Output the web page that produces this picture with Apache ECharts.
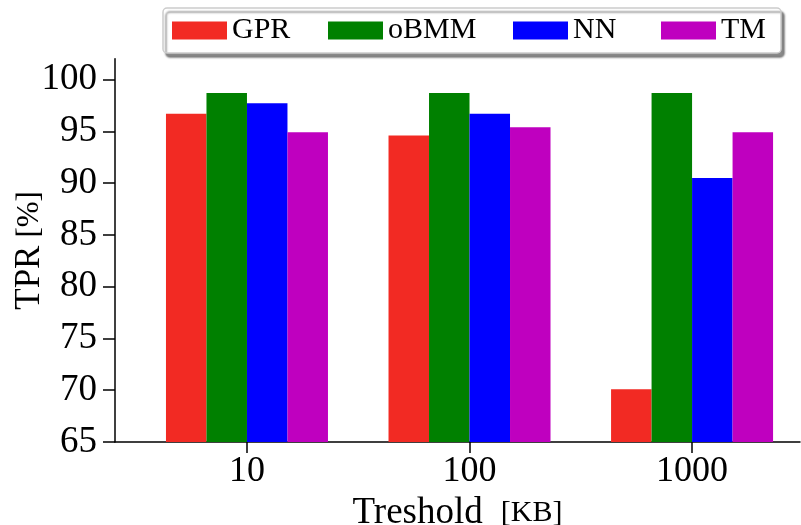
<!DOCTYPE html>
<html>
<head>
<meta charset="utf-8">
<script src="https://cdn.jsdelivr.net/npm/echarts@6/dist/echarts.min.js"></script>
<style>
  html, body { margin: 0; padding: 0; background: #fff; }
  #chart { width: 801px; height: 525px; }
</style>
</head>
<body>
<div id="chart"></div>
<script>
// Threshold categories (KB) and true-positive rates per method
const categories = ['10', '100', '1000'];
const gpr  = [96.7, 94.6, 70.1];
const obmm = [98.7, 98.7, 98.7];
const nn   = [97.7, 96.7, 90.5];
const tm   = [94.9, 95.4, 94.9];
const yTicks = [65, 70, 75, 80, 85, 90, 95, 100];
const catPositions = [0, 1, 2];

const FONT = 'Liberation Serif';

const seriesDefs = [
  { name: 'GPR',  values: gpr,  color: '#f22a23' },
  { name: 'oBMM', values: obmm, color: '#008000' },
  { name: 'NN',   values: nn,   color: '#0000ff' },
  { name: 'TM',   values: tm,   color: '#bf00bf' }
];

// legend text widths keep the columns where they sit in the figure
const legendTextWidths = { GPR: 86, oBMM: 115, NN: 78, TM: 48 };

const chart = echarts.init(document.getElementById('chart'), null, { renderer: 'canvas' });

chart.setOption({
  backgroundColor: '#ffffff',
  animation: false,
  textStyle: { fontFamily: FONT, color: '#000' },
  grid: { left: 115, right: 1, top: 58.8, bottom: 83, containLabel: false, outerBoundsMode: 'none' },
  legend: {
    left: 163,
    top: 8,
    orient: 'horizontal',
    icon: 'rect',
    itemWidth: 55,
    itemHeight: 18,
    itemGap: 10,
    padding: [7, 12, 7, 9],
    backgroundColor: '#ffffff',
    borderColor: '#cccccc',
    borderWidth: 1.5,
    borderRadius: 4,
    shadowColor: 'rgba(0,0,0,0.45)',
    shadowBlur: 2,
    shadowOffsetX: 3,
    shadowOffsetY: 4,
    textStyle: { fontFamily: FONT, fontSize: 30, color: '#000', lineHeight: 31 },
    data: seriesDefs.map(s => ({
      name: s.name,
      textStyle: { width: legendTextWidths[s.name] }
    }))
  },
  xAxis: {
    type: 'value',
    min: -0.593,
    max: 2.485,
    name: '{a|Treshold}{b|[KB]}',
    nameLocation: 'middle',
    nameGap: 53,
    nameMoveOverlap: false,
    nameTextStyle: {
      rich: {
        a: { fontFamily: FONT, fontSize: 37, color: '#000' },
        b: { fontFamily: FONT, fontSize: 30, color: '#000', padding: [0, 0, 0, 18] }
      }
    },
    axisLine: { show: true, onZero: false, lineStyle: { color: '#000', width: 1.5 } },
    axisTick: { show: true, length: 11, customValues: catPositions, lineStyle: { color: '#000', width: 1.5 } },
    axisLabel: {
      show: true,
      customValues: catPositions,
      margin: 12,
      fontFamily: FONT,
      fontSize: 36,
      color: '#000',
      formatter: v => categories[Math.round(v)]
    },
    splitLine: { show: false }
  },
  yAxis: {
    type: 'value',
    min: 65,
    max: 102,
    interval: 5,
    name: '{a|TPR}{b|[%]}',
    nameLocation: 'middle',
    nameGap: 68,
    nameMoveOverlap: false,
    nameTextStyle: {
      rich: {
        a: { fontFamily: FONT, fontSize: 35, color: '#000' },
        b: { fontFamily: FONT, fontSize: 31, color: '#000', padding: [0, 0, 0, 8] }
      }
    },
    axisLine: { show: true, onZero: false, lineStyle: { color: '#000', width: 1.5 } },
    axisTick: { show: true, length: 12, customValues: yTicks, lineStyle: { color: '#000', width: 1.5 } },
    axisLabel: {
      show: true,
      customValues: yTicks,
      margin: 18,
      fontFamily: FONT,
      fontSize: 37,
      color: '#000'
    },
    splitLine: { show: false }
  },
  series: seriesDefs.map(s => ({
    name: s.name,
    type: 'bar',
    barWidth: 40.5,
    barGap: '0%',
    itemStyle: { color: s.color },
    data: s.values.map((v, i) => [catPositions[i], v])
  }))
});
</script>
</body>
</html>
